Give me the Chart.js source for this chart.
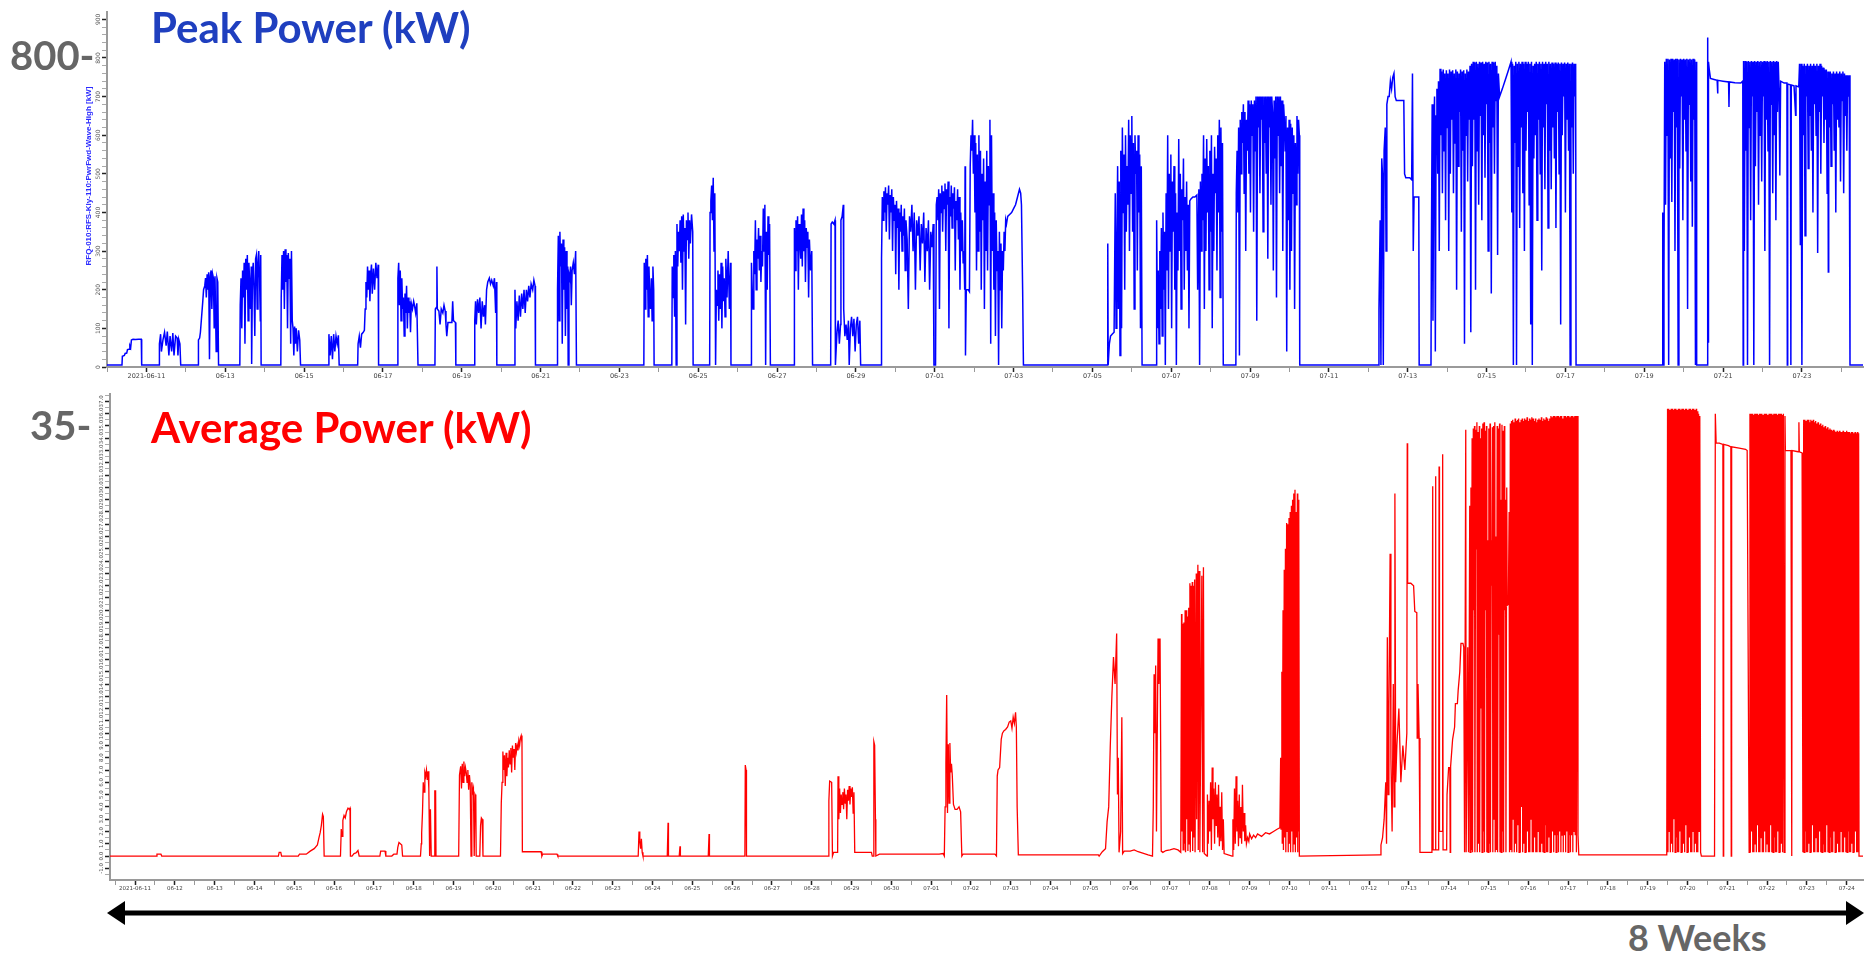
<!DOCTYPE html>
<html>
<head>
<meta charset="utf-8">
<script src="https://cdn.jsdelivr.net/npm/chart.js@4.4.1/dist/chart.umd.min.js"></script>
<style>
html, body { margin: 0; padding: 0; background: #fff; }
#page { position: relative; width: 1870px; height: 957px; overflow: hidden; font-family: 'Lato', 'Open Sans', sans-serif; }
.box { position: absolute; }
#peakBox { left: 0; top: 0; width: 1870px; height: 395px; }
#avgBox { left: 0; top: 380px; width: 1870px; height: 520px; }
.note { position: absolute; font-weight: 700; white-space: nowrap; line-height: 1; }
#arrow { position: absolute; left: 0; top: 0; }
</style>
</head>
<body>
<div id="page">
  <div class="box" id="peakBox"><canvas id="peakChart"></canvas></div>
  <div class="box" id="avgBox"><canvas id="avgChart"></canvas></div>

  <div class="note" style="left:151px; top:6px; font-size:42px; color:#1f3fbf;">Peak Power (kW)</div>
  <div class="note" style="left:151px; top:406px; font-size:42px; color:#ff0000;">Average Power (kW)</div>
  <div class="note" style="left:10px; top:35px; font-size:40px; color:#666;">800-</div>
  <div class="note" style="left:30px; top:405px; font-size:40px; color:#666;">35-</div>
  <div class="note" style="left:1628px; top:919px; font-size:36px; color:#666;">8 Weeks</div>

  <svg id="arrow" width="1870" height="957">
    <line x1="120" y1="913" x2="1850" y2="913" stroke="#000" stroke-width="5"/>
    <polygon points="107,913 125,901 125,925" fill="#000"/>
    <polygon points="1864,913 1846,901 1846,925" fill="#000"/>
  </svg>
</div>

<script>
// Day index 0 = 2021-06-10 00:00.

// tick labels, one per day
const dayLabels = [
  '06-10', '06-11', '06-12', '06-13', '06-14', '06-15', '06-16', '06-17', '06-18', '06-19',
  '06-20', '06-21', '06-22', '06-23', '06-24', '06-25', '06-26', '06-27', '06-28', '06-29',
  '06-30', '07-01', '07-02', '07-03', '07-04', '07-05', '07-06', '07-07', '07-08', '07-09',
  '07-10', '07-11', '07-12', '07-13', '07-14', '07-15', '07-16', '07-17', '07-18', '07-19',
  '07-20', '07-21', '07-22', '07-23', '07-24'
];
const peakTickValues = [0, 100, 200, 300, 400, 500, 600, 700, 800, 900];
const avgTickValues = [-1, 0, 1, 2, 3, 4, 5, 6, 7, 8, 9, 10, 11, 12, 13, 14, 15, 16, 17, 18, 19,
  20, 21, 22, 23, 24, 25, 26, 27, 28, 29, 30, 31, 32, 33, 34, 35, 36, 37];

// Peak power [day, kW] - June 10 .. June 22
const peakEarly = [
  [0, 5], [0.38, 5], [0.39, 28], [0.44, 30], [0.46, 35], [0.5, 36], [0.52, 45], [0.56, 46], [0.58, 55], [0.6, 50],
  [0.62, 70], [0.66, 72], [0.72, 71], [0.8, 72], [0.87, 72], [0.88, 5],
  [1.32, 5], [1.33, 60], [1.36, 85], [1.38, 40], [1.42, 70], [1.46, 90], [1.5, 55], [1.53, 92], [1.57, 30], [1.6, 80],
  [1.64, 40], [1.67, 88], [1.7, 30], [1.74, 80], [1.78, 75], [1.8, 30], [1.82, 72], [1.85, 60], [1.87, 5],
  [2.31, 5], [2.32, 70], [2.35, 75], [2.37, 90], [2.4, 130], [2.43, 170], [2.45, 200], [2.48, 210], [2.5, 230], [2.52, 180],
  [2.54, 240], [2.56, 200], [2.58, 245], [2.6, 20], [2.62, 235], [2.64, 250], [2.66, 150], [2.68, 240], [2.7, 230], [2.72, 100],
  [2.74, 235], [2.77, 40], [2.79, 230], [2.81, 220], [2.83, 5],
  [3.37, 5], [3.38, 160], [3.4, 230], [3.42, 100], [3.44, 250], [3.46, 180], [3.48, 270], [3.5, 60], [3.52, 280], [3.54, 200],
  [3.56, 290], [3.58, 120], [3.6, 270], [3.62, 220], [3.64, 150], [3.66, 260], [3.67, 8], [3.69, 240], [3.71, 270], [3.73, 200],
  [3.75, 80], [3.77, 280], [3.79, 290], [3.81, 150], [3.83, 270], [3.85, 300], [3.87, 230], [3.89, 120], [3.9, 290], [3.91, 5],
  [4.41, 5], [4.42, 180], [4.44, 290], [4.46, 200], [4.48, 300], [4.5, 150], [4.52, 305], [4.54, 220], [4.56, 290], [4.58, 100],
  [4.6, 295], [4.62, 230], [4.64, 280], [4.66, 60], [4.68, 300], [4.7, 120], [4.72, 100], [4.74, 30], [4.76, 105], [4.78, 60],
  [4.8, 100], [4.83, 40], [4.86, 95], [4.89, 70], [4.91, 5],
  [5.62, 5], [5.63, 85], [5.66, 30], [5.69, 80], [5.72, 20], [5.75, 85], [5.78, 40], [5.81, 80], [5.84, 60], [5.87, 82], [5.89, 5],
  [6.36, 5], [6.37, 60], [6.4, 80], [6.43, 50], [6.46, 85], [6.5, 90], [6.53, 95], [6.55, 150], [6.57, 220], [6.59, 180],
  [6.61, 260], [6.63, 200], [6.65, 250], [6.67, 170], [6.69, 240], [6.71, 265], [6.73, 190], [6.76, 255], [6.79, 200], [6.82, 270],
  [6.85, 230], [6.88, 265], [6.89, 5],
  [7.37, 5], [7.38, 230], [7.4, 270], [7.42, 160], [7.44, 250], [7.46, 120], [7.48, 230], [7.5, 150], [7.52, 180], [7.54, 80],
  [7.56, 190], [7.58, 140], [7.6, 210], [7.62, 100], [7.64, 180], [7.66, 140], [7.68, 170], [7.7, 90], [7.72, 165], [7.75, 150],
  [7.78, 170], [7.8, 160], [7.83, 140], [7.86, 165], [7.89, 5],
  [8.32, 5], [8.33, 150], [8.36, 155], [8.37, 260], [8.38, 150], [8.42, 145], [8.45, 110], [8.48, 150], [8.52, 140], [8.55, 160],
  [8.58, 145], [8.6, 110], [8.62, 80], [8.65, 115], [8.7, 115], [8.75, 115], [8.77, 170], [8.79, 120], [8.84, 115], [8.85, 5],
  [9.32, 5], [9.33, 120], [9.35, 170], [9.37, 110], [9.4, 175], [9.43, 140], [9.46, 180], [9.49, 100], [9.52, 170], [9.55, 130],
  [9.58, 160], [9.6, 110], [9.63, 200], [9.66, 220], [9.7, 230], [9.73, 215], [9.76, 225], [9.8, 210], [9.83, 230], [9.86, 140],
  [9.88, 220], [9.89, 5],
  [10.34, 5], [10.35, 200], [10.37, 100], [10.4, 170], [10.43, 120], [10.46, 185], [10.49, 130], [10.52, 190], [10.55, 150], [10.58, 200],
  [10.61, 140], [10.64, 200], [10.67, 170], [10.7, 210], [10.73, 180], [10.76, 215], [10.8, 200], [10.83, 225], [10.86, 210], [10.87, 5],
  [11.42, 5], [11.43, 200], [11.45, 340], [11.47, 120], [11.49, 350], [11.51, 260], [11.53, 320], [11.55, 60], [11.57, 330], [11.59, 200],
  [11.61, 310], [11.63, 80], [11.65, 300], [11.67, 150], [11.69, 260], [11.7, 5], [11.72, 240], [11.74, 230], [11.76, 260], [11.78, 160],
  [11.8, 250], [11.83, 270], [11.86, 240], [11.89, 300], [11.91, 5]
];

// Peak power - June 23 .. July 3
const peakMid = [
  [13.62, 5], [13.63, 270], [13.65, 150], [13.67, 280], [13.69, 200], [13.71, 290], [13.73, 130], [13.75, 260], [13.77, 180], [13.79, 150],
  [13.81, 230], [13.83, 120], [13.85, 260], [13.87, 200], [13.88, 5],
  [14.33, 5], [14.34, 260], [14.36, 180], [14.38, 290], [14.4, 130], [14.42, 300], [14.44, 5], [14.46, 370], [14.48, 260], [14.5, 350],
  [14.52, 300], [14.54, 380], [14.56, 270], [14.58, 390], [14.6, 200], [14.62, 395], [14.64, 300], [14.66, 360], [14.68, 110], [14.7, 380],
  [14.72, 330], [14.74, 400], [14.76, 280], [14.78, 380], [14.8, 320], [14.83, 395], [14.86, 350], [14.87, 5],
  [15.29, 5], [15.3, 400], [15.32, 430], [15.34, 470], [15.36, 380], [15.38, 490], [15.4, 300], [15.42, 450], [15.44, 5], [15.46, 200],
  [15.48, 160], [15.5, 250], [15.52, 120], [15.54, 240], [15.56, 150], [15.58, 270], [15.6, 100], [15.62, 260], [15.64, 170], [15.66, 230],
  [15.68, 130], [15.7, 280], [15.73, 180], [15.76, 300], [15.79, 150], [15.82, 270], [15.83, 5],
  [16.34, 5], [16.35, 270], [16.37, 200], [16.39, 150], [16.41, 300], [16.43, 240], [16.45, 380], [16.47, 200], [16.49, 330], [16.51, 280],
  [16.53, 360], [16.55, 250], [16.57, 340], [16.59, 220], [16.61, 300], [16.63, 260], [16.65, 410], [16.67, 300], [16.69, 420], [16.71, 5],
  [16.73, 350], [16.75, 200], [16.77, 390], [16.79, 290], [16.81, 370], [16.83, 5],
  [17.43, 5], [17.44, 360], [17.46, 250], [17.48, 380], [17.5, 300], [17.52, 390], [17.54, 200], [17.56, 370], [17.58, 330], [17.6, 280],
  [17.62, 395], [17.64, 260], [17.66, 410], [17.68, 300], [17.7, 380], [17.72, 220], [17.74, 360], [17.76, 310], [17.78, 350], [17.8, 180],
  [17.82, 330], [17.85, 250], [17.88, 300], [17.9, 5],
  [18.36, 5], [18.37, 370], [18.4, 375], [18.44, 370], [18.47, 380], [18.48, 5], [18.52, 90], [18.55, 120], [18.58, 60], [18.61, 110],
  [18.62, 380], [18.65, 390], [18.68, 420], [18.69, 150], [18.72, 80], [18.75, 110], [18.78, 70], [18.81, 120], [18.83, 5], [18.86, 100],
  [18.89, 130], [18.92, 80], [18.95, 125], [18.98, 40], [19.01, 110], [19.04, 130], [19.07, 60], [19.1, 120], [19.12, 5],
  [19.64, 5], [19.65, 280], [19.67, 440], [19.69, 380], [19.71, 455], [19.73, 400], [19.75, 465], [19.77, 350], [19.79, 450], [19.81, 420],
  [19.83, 470], [19.85, 330], [19.87, 445], [19.89, 400], [19.91, 460], [19.93, 300], [19.95, 440], [19.97, 380], [19.99, 420], [20.01, 240],
  [20.03, 430], [20.05, 360], [20.07, 410], [20.09, 200], [20.11, 400], [20.13, 350], [20.15, 420], [20.17, 300], [20.19, 390], [20.21, 340],
  [20.23, 410], [20.25, 250], [20.27, 380], [20.3, 330], [20.33, 150], [20.36, 390], [20.39, 350], [20.42, 420], [20.45, 300], [20.48, 400],
  [20.51, 200], [20.54, 380], [20.57, 340], [20.6, 390], [20.63, 250], [20.66, 370], [20.69, 320], [20.72, 400], [20.75, 220], [20.78, 360],
  [20.81, 300], [20.84, 380], [20.87, 200], [20.9, 350], [20.93, 310], [20.96, 370], [20.98, 5], [21.02, 5],
  [21.04, 420], [21.06, 440], [21.08, 380], [21.1, 460], [21.12, 150], [21.14, 450], [21.16, 400], [21.18, 470], [21.2, 350], [21.22, 455],
  [21.24, 410], [21.26, 475], [21.28, 300], [21.3, 460], [21.32, 420], [21.34, 480], [21.36, 100], [21.38, 440], [21.4, 390], [21.42, 470],
  [21.44, 360], [21.46, 450], [21.48, 410], [21.5, 465], [21.52, 250], [21.54, 430], [21.56, 380], [21.58, 460], [21.6, 330], [21.62, 440],
  [21.64, 200], [21.66, 400], [21.68, 300], [21.7, 380], [21.72, 270], [21.74, 300], [21.76, 200], [21.77, 520], [21.78, 30], [21.8, 200],
  [21.85, 200], [21.88, 195], [21.9, 520], [21.92, 600], [21.94, 560], [21.96, 640], [21.98, 500], [22.0, 600], [22.02, 400], [22.04, 580],
  [22.06, 250], [22.08, 550], [22.1, 300], [22.12, 600], [22.14, 350], [22.16, 560], [22.18, 200], [22.2, 500], [22.22, 380], [22.24, 540],
  [22.26, 150], [22.28, 480], [22.3, 300], [22.32, 560], [22.34, 250], [22.36, 520], [22.38, 420], [22.4, 640], [22.42, 60], [22.44, 600],
  [22.46, 300], [22.48, 450], [22.5, 200], [22.52, 400], [22.54, 80], [22.56, 380], [22.58, 250], [22.6, 300], [22.62, 5], [22.64, 350],
  [22.66, 200], [22.68, 320], [22.7, 100], [22.72, 300], [22.74, 250], [22.76, 350], [22.78, 300], [22.8, 380], [22.82, 370], [22.85, 390],
  [22.9, 395], [22.95, 400], [23.0, 410], [23.05, 420], [23.1, 440], [23.15, 460], [23.18, 450], [23.2, 420], [23.23, 200], [23.25, 5]
];

// Peak power - July 5 .. July 13
const peakLate = [
  [25.38, 5], [25.39, 320], [25.4, 5], [25.43, 60], [25.46, 80], [25.5, 85], [25.55, 90], [25.58, 450], [25.6, 100], [25.62, 300],
  [25.64, 520], [25.66, 150], [25.68, 480], [25.7, 30], [25.72, 560], [25.74, 100], [25.76, 620], [25.78, 400], [25.8, 550], [25.82, 200],
  [25.84, 600], [25.86, 350], [25.88, 520], [25.9, 420], [25.92, 640], [25.94, 300], [25.96, 600], [25.98, 450], [26.0, 650], [26.02, 350],
  [26.04, 580], [26.06, 150], [26.08, 600], [26.1, 500], [26.12, 560], [26.14, 250], [26.16, 600], [26.18, 400], [26.2, 550], [26.22, 100],
  [26.24, 520], [26.26, 5],
  [26.62, 5], [26.63, 380], [26.65, 100], [26.67, 250], [26.69, 60], [26.71, 300], [26.73, 150], [26.75, 360], [26.77, 80], [26.79, 400],
  [26.81, 200], [26.83, 350], [26.85, 5], [26.87, 450], [26.89, 250], [26.91, 600], [26.93, 150], [26.95, 500], [26.97, 300], [26.99, 550],
  [27.01, 100], [27.03, 480], [27.05, 350], [27.07, 520], [27.09, 200], [27.11, 450], [27.13, 5], [27.15, 400], [27.17, 250], [27.19, 590],
  [27.21, 300], [27.23, 500], [27.25, 150], [27.27, 460], [27.29, 380], [27.31, 540], [27.33, 200], [27.35, 440], [27.37, 300], [27.39, 480],
  [27.41, 250], [27.43, 420], [27.45, 100], [27.47, 430], [27.5, 435], [27.55, 440], [27.6, 440], [27.65, 445], [27.67, 200], [27.7, 460],
  [27.72, 5], [27.74, 480], [27.76, 300], [27.78, 500], [27.8, 380], [27.82, 600], [27.84, 150], [27.86, 540], [27.88, 300], [27.9, 590],
  [27.92, 400], [27.94, 520], [27.96, 200], [27.98, 560], [28.0, 350], [28.02, 600], [28.04, 100], [28.06, 500], [28.08, 300], [28.1, 570],
  [28.12, 450], [28.14, 540], [28.16, 250], [28.18, 600], [28.2, 400], [28.22, 640], [28.24, 180], [28.26, 620], [28.28, 350], [28.3, 580],
  [28.32, 5],
  [28.64, 5], [28.65, 450], [28.67, 560], [28.69, 400], [28.71, 620], [28.73, 30], [28.75, 640], [28.77, 500], [28.79, 660], [28.81, 580],
  [28.83, 680], [28.85, 450], [28.87, 660], [28.89, 300], [28.91, 640], [28.93, 560], [28.95, 690], [28.97, 500], [28.99, 680], [29.01, 400],
  [29.03, 690], [29.05, 600], [29.07, 680], [29.09, 350], [29.11, 690], [29.13, 560], [29.15, 700], [29.17, 120], [29.19, 700], [29.21, 620],
  [29.23, 700], [29.25, 450], [29.27, 700], [29.29, 640], [29.31, 700], [29.33, 350], [29.35, 700], [29.37, 580], [29.39, 700], [29.41, 500],
  [29.43, 700], [29.45, 280], [29.47, 700], [29.49, 620], [29.51, 700], [29.53, 420], [29.55, 700], [29.57, 660], [29.59, 250], [29.61, 690],
  [29.63, 540], [29.65, 700], [29.67, 180], [29.69, 700], [29.71, 600], [29.73, 700], [29.75, 450], [29.77, 700], [29.79, 520], [29.81, 690],
  [29.83, 300], [29.85, 680], [29.87, 640], [29.89, 560], [29.91, 650], [29.93, 40], [29.95, 620], [29.97, 380], [29.99, 640], [30.01, 200],
  [30.03, 630], [30.05, 300], [30.07, 620], [30.09, 450], [30.11, 600], [30.13, 150], [30.15, 580], [30.17, 420], [30.19, 650], [30.21, 500],
  [30.23, 640], [30.25, 600], [30.26, 5],
  [32.26, 5], [32.27, 150], [32.3, 380], [32.32, 5], [32.34, 540], [32.36, 500], [32.38, 5], [32.4, 560], [32.43, 620], [32.45, 300],
  [32.47, 680], [32.5, 700], [32.53, 700], [32.56, 740], [32.59, 720], [32.62, 750], [32.65, 760], [32.68, 700], [32.71, 690], [32.75, 690],
  [32.8, 690], [32.85, 690], [32.9, 690], [32.92, 500], [32.95, 490], [33.0, 490], [33.05, 490], [33.1, 485], [33.12, 760], [33.14, 300],
  [33.16, 440], [33.22, 440], [33.28, 440], [33.29, 5]
];

// Peak power - July 13 .. July 24
const peakEnd = [
  [33.59, 5], [33.6, 300], [33.62, 680], [33.64, 120], [33.66, 600], [33.68, 700], [33.7, 40], [33.72, 650], [33.74, 720], [33.76, 500],
  [33.78, 740], [33.8, 300], [33.82, 772], [33.84, 600], [33.86, 765], [33.88, 450], [33.9, 770], [33.92, 560], [33.94, 760], [33.96, 380],
  [33.98, 768], [34.0, 620], [34.02, 760], [34.04, 300], [34.06, 770], [34.08, 500], [34.1, 765], [34.12, 640], [34.14, 768], [34.16, 450],
  [34.18, 760], [34.2, 580], [34.22, 770], [34.24, 200], [34.26, 765], [34.28, 520], [34.3, 760], [34.32, 660], [34.34, 770], [34.36, 350],
  [34.38, 765], [34.4, 560], [34.42, 768], [34.44, 60], [34.46, 760], [34.48, 600], [34.5, 770], [34.52, 480], [34.54, 765], [34.56, 640],
  [34.58, 780], [34.6, 90], [34.62, 785], [34.64, 520], [34.66, 790], [34.68, 640], [34.7, 788], [34.72, 200], [34.74, 790], [34.76, 560],
  [34.78, 785], [34.8, 420], [34.82, 790], [34.84, 650], [34.86, 788], [34.88, 380], [34.9, 790], [34.92, 600], [34.94, 785], [34.96, 490],
  [34.98, 790], [35.0, 680], [35.02, 788], [35.04, 300], [35.06, 790], [35.08, 580], [35.1, 785], [35.12, 190], [35.14, 790], [35.16, 620],
  [35.18, 788], [35.2, 500], [35.22, 790], [35.24, 690], [35.26, 780], [35.28, 290], [35.3, 760], [35.33, 700], [35.4, 720], [35.48, 745],
  [35.56, 770], [35.62, 790], [35.64, 400], [35.66, 785], [35.68, 5], [35.7, 780], [35.72, 580], [35.74, 790], [35.76, 5], [35.78, 785],
  [35.8, 520], [35.82, 790], [35.84, 360], [35.86, 785], [35.88, 620], [35.9, 790], [35.92, 450], [35.94, 785], [35.96, 300], [35.98, 790],
  [36.0, 560], [36.02, 785], [36.04, 660], [36.06, 790], [36.08, 420], [36.1, 785], [36.12, 110], [36.14, 790], [36.16, 5], [36.18, 780],
  [36.2, 540], [36.22, 785], [36.24, 600], [36.26, 790], [36.28, 380], [36.3, 785], [36.32, 640], [36.34, 790], [36.36, 500], [36.38, 785],
  [36.4, 250], [36.42, 790], [36.44, 620], [36.46, 785], [36.48, 460], [36.5, 790], [36.52, 680], [36.54, 785], [36.56, 360], [36.58, 790],
  [36.6, 560], [36.62, 785], [36.64, 460], [36.66, 788], [36.68, 620], [36.7, 785], [36.72, 540], [36.74, 788], [36.76, 360], [36.78, 785],
  [36.8, 660], [36.82, 788], [36.84, 500], [36.86, 785], [36.88, 110], [36.9, 788], [36.92, 600], [36.94, 785], [36.96, 700], [36.98, 788],
  [37.0, 400], [37.02, 785], [37.04, 640], [37.06, 788], [37.08, 560], [37.1, 785], [37.12, 5], [37.14, 785], [37.16, 620], [37.18, 788],
  [37.2, 500], [37.22, 785], [37.24, 700], [37.26, 785], [37.27, 5],
  [39.46, 5], [39.47, 400], [39.48, 5], [39.5, 237], [39.52, 790], [39.54, 420], [39.56, 798], [39.58, 600], [39.6, 798], [39.62, 5],
  [39.64, 796], [39.66, 540], [39.68, 798], [39.7, 427], [39.72, 798], [39.74, 660], [39.76, 796], [39.78, 300], [39.8, 798], [39.82, 620],
  [39.84, 798], [39.86, 5], [39.88, 796], [39.9, 514], [39.92, 798], [39.94, 700], [39.96, 796], [39.98, 380], [40.0, 798], [40.02, 640],
  [40.04, 796], [40.06, 560], [40.08, 798], [40.1, 150], [40.12, 796], [40.14, 680], [40.16, 798], [40.18, 480], [40.2, 796], [40.22, 363],
  [40.24, 798], [40.26, 640], [40.28, 796], [40.3, 5], [40.32, 790], [40.33, 5], [40.6, 5], [40.61, 853], [40.62, 65], [40.63, 790],
  [40.65, 770], [40.68, 747], [40.75, 745], [40.85, 742], [40.86, 708], [40.87, 742], [41.0, 740], [41.14, 738], [41.15, 673], [41.16, 738],
  [41.3, 736], [41.45, 735], [41.5, 740], [41.51, 5], [41.52, 792], [41.54, 300], [41.56, 792], [41.58, 560], [41.6, 790], [41.62, 5],
  [41.64, 792], [41.66, 620], [41.68, 790], [41.7, 380], [41.72, 792], [41.74, 700], [41.76, 790], [41.78, 5], [41.8, 792], [41.82, 520],
  [41.84, 790], [41.86, 660], [41.88, 792], [41.9, 420], [41.92, 790], [41.94, 600], [41.96, 792], [41.98, 480], [42.0, 790], [42.02, 700],
  [42.04, 792], [42.06, 300], [42.08, 790], [42.1, 640], [42.12, 792], [42.14, 560], [42.16, 790], [42.18, 5], [42.2, 792], [42.22, 680],
  [42.24, 790], [42.26, 450], [42.28, 792], [42.3, 600], [42.32, 790], [42.34, 380], [42.36, 792], [42.38, 660], [42.4, 790], [42.42, 720],
  [42.44, 496], [42.46, 740], [42.55, 735], [42.62, 735], [42.63, 5], [42.64, 733], [42.71, 730], [42.72, 5], [42.73, 730], [42.8, 728],
  [42.84, 652], [42.85, 728], [42.92, 725], [42.94, 785], [42.96, 315], [42.98, 785], [43.0, 5], [43.02, 780], [43.04, 600], [43.06, 785],
  [43.08, 340], [43.1, 780], [43.12, 700], [43.14, 785], [43.16, 514], [43.18, 780], [43.2, 650], [43.22, 785], [43.24, 560], [43.26, 780],
  [43.28, 400], [43.3, 785], [43.32, 680], [43.34, 780], [43.36, 600], [43.38, 785], [43.4, 295], [43.42, 780], [43.44, 660], [43.46, 785],
  [43.48, 500], [43.5, 780], [43.52, 700], [43.54, 775], [43.56, 580], [43.58, 770], [43.6, 640], [43.62, 770], [43.64, 450], [43.66, 765],
  [43.67, 246], [43.68, 765], [43.7, 620], [43.72, 765], [43.74, 520], [43.76, 760], [43.78, 680], [43.8, 765], [43.82, 560], [43.84, 760],
  [43.86, 400], [43.88, 765], [43.9, 640], [43.92, 760], [43.94, 620], [43.96, 765], [43.98, 480], [44.0, 760], [44.02, 690], [44.04, 765],
  [44.06, 450], [44.08, 760], [44.1, 650], [44.12, 755], [44.14, 560], [44.16, 755], [44.18, 700], [44.2, 755], [44.22, 5], [44.55, 5]
];

// Average power [day, kW] - June 10 .. July 3
const avgEarly = [
  [0.37, 0], [1.53, 0], [1.55, 0.15], [1.65, 0.15], [1.67, 0], [4.6, 0], [4.62, 0.3], [4.66, 0.3], [4.68, 0],
  [5.1, 0], [5.13, 0.15], [5.3, 0.15], [5.4, 0.4], [5.5, 0.6], [5.58, 0.9], [5.62, 1.5], [5.65, 1.9], [5.68, 2.5], [5.71, 3.4], [5.73, 3.2], [5.75, 0],
  [6.16, 0], [6.18, 2.2], [6.2, 1.6], [6.22, 2.9], [6.25, 3.3], [6.28, 3.1], [6.31, 3.6], [6.35, 3.9], [6.38, 3.8], [6.4, 3.9], [6.41, 0],
  [6.45, 0], [6.5, 0.2], [6.55, 0.25], [6.6, 0.45], [6.63, 0],
  [7.15, 0], [7.17, 0.4], [7.28, 0.4], [7.3, 0], [7.45, 0], [7.5, 0.15], [7.58, 0.15], [7.6, 0.7], [7.63, 1.1], [7.7, 0.9], [7.72, 0],
  [8.17, 0], [8.19, 1.0], [8.2, 1.9], [8.22, 3.5], [8.24, 6.0], [8.26, 5.2], [8.28, 6.8], [8.3, 6.5], [8.32, 7.0], [8.34, 6.2],
  [8.36, 6.9], [8.38, 5.5], [8.4, 0], [8.42, 3.8], [8.44, 0], [8.52, 0], [8.53, 5.3], [8.55, 5.3], [8.56, 0],
  [9.13, 0], [9.15, 6.6], [9.18, 7.3], [9.2, 5.5], [9.22, 7.5], [9.24, 6.0], [9.26, 7.7], [9.28, 6.5], [9.3, 7.2], [9.32, 6.8],
  [9.34, 6.0], [9.36, 7.0], [9.38, 5.4], [9.4, 6.6], [9.42, 5.8], [9.44, 0], [9.46, 6.0], [9.48, 5.2], [9.5, 5.5], [9.52, 0],
  [9.54, 5.0], [9.56, 4.8], [9.57, 0], [9.66, 0], [9.68, 2.5], [9.7, 3.1], [9.72, 3.0], [9.74, 0],
  [10.18, 0], [10.2, 4.3], [10.22, 6.0], [10.24, 8.5], [10.26, 7.0], [10.28, 8.2], [10.3, 5.7], [10.32, 8.4], [10.34, 6.5], [10.36, 8.0],
  [10.38, 7.2], [10.4, 8.6], [10.42, 7.5], [10.44, 8.8], [10.46, 6.8], [10.48, 9.0], [10.5, 8.0], [10.52, 8.7], [10.54, 7.0], [10.56, 9.2],
  [10.58, 8.5], [10.6, 9.0], [10.62, 8.6], [10.64, 9.4], [10.66, 9.0], [10.68, 9.6], [10.7, 9.8], [10.72, 9.2], [10.73, 0.35], [11.2, 0.35],
  [11.22, 0], [11.24, 0.15], [11.6, 0.15], [11.62, 0],
  [13.64, 0], [13.66, 2.0], [13.68, 1.2], [13.7, 0.6], [13.72, 1.4], [13.74, 0.3], [13.76, 0],
  [14.37, 0], [14.39, 2.7], [14.4, 0], [14.67, 0], [14.69, 0.8], [14.7, 0], [15.4, 0], [15.42, 1.8], [15.43, 0],
  [16.32, 0], [16.33, 7.4], [16.35, 7.0], [16.36, 0],
  [18.41, 0], [18.43, 4.5], [18.45, 6.1], [18.5, 6.0], [18.52, 0], [18.55, 0.3], [18.65, 0.3], [18.66, 6.5], [18.68, 3.0], [18.7, 5.5],
  [18.72, 3.5], [18.74, 5.0], [18.76, 4.2], [18.78, 5.2], [18.8, 3.8], [18.82, 5.5], [18.84, 4.3], [18.86, 5.0], [18.88, 3.0], [18.9, 5.4],
  [18.92, 4.5], [18.94, 5.7], [18.96, 4.2], [18.98, 5.5], [19.0, 4.8], [19.02, 5.6], [19.04, 3.5], [19.06, 5.2], [19.08, 0.3], [19.5, 0.3],
  [19.52, 0], [19.55, 0], [19.56, 9.3], [19.58, 9.0], [19.6, 3.0], [19.61, 0], [19.7, 0.15], [21.2, 0.15], [21.3, 0.2],
  [21.33, 0], [21.35, 4.0], [21.37, 7.6], [21.39, 13.1], [21.41, 3.5], [21.43, 9.1], [21.45, 4.3], [21.47, 9.2], [21.49, 6.8], [21.51, 7.5],
  [21.53, 6.6], [21.56, 4.2], [21.6, 3.8], [21.65, 3.8], [21.7, 4.0], [21.74, 3.6], [21.77, 0], [21.8, 0.15], [22.6, 0.15],
  [22.64, 0], [22.66, 6.5], [22.68, 7.0], [22.72, 7.2], [22.76, 9.5], [22.79, 10.0], [22.83, 10.2], [22.87, 10.3], [22.92, 10.5], [22.96, 10.9],
  [23.0, 11.0], [23.03, 10.4], [23.06, 11.3], [23.09, 10.8], [23.12, 11.7], [23.14, 10.5], [23.16, 4.0], [23.19, 0.1], [25.2, 0.1]
];

// Average power - July 5 .. July 13
const avgMid = [
  [25.22, 0], [25.3, 0.35], [25.38, 0.6], [25.42, 2.8], [25.46, 4.0], [25.5, 9.0], [25.54, 13.0], [25.58, 16.2], [25.62, 14.0], [25.66, 18.1],
  [25.68, 5.0], [25.7, 8.0], [25.72, 0.3], [25.76, 2.0], [25.79, 11.3], [25.81, 0.2], [25.85, 0.4], [26.0, 0.4], [26.1, 0.5], [26.2, 0.35],
  [26.45, 0.1], [26.56, 0], [26.58, 4.0], [26.6, 14.8], [26.62, 10.0], [26.64, 15.5], [26.66, 2.0], [26.7, 17.7], [26.72, 14.0], [26.75, 17.7],
  [26.78, 0.4], [26.82, 0.3], [26.9, 0.45], [27.0, 0.5], [27.1, 0.6], [27.2, 0.5], [27.27, 0.3],
  [27.29, 19.7], [27.3, 2.0], [27.32, 18.9], [27.33, 0.5], [27.35, 19.0], [27.36, 1.0], [27.38, 20.0], [27.39, 0.3], [27.41, 20.0], [27.42, 3.0],
  [27.44, 19.5], [27.45, 0.4], [27.47, 20.2], [27.48, 1.0], [27.5, 22.2], [27.51, 0.3], [27.53, 22.0], [27.54, 2.0], [27.56, 22.3], [27.57, 0.4],
  [27.59, 22.0], [27.6, 1.5], [27.62, 22.5], [27.63, 0.3], [27.66, 23.0], [27.67, 3.0], [27.7, 23.7], [27.71, 0.5], [27.73, 23.2], [27.75, 0.3],
  [27.8, 22.8], [27.82, 0.3], [27.84, 23.5], [27.86, 0.2],
  [27.93, 0], [27.94, 5.0], [27.96, 1.0], [27.98, 4.5], [28.0, 2.0], [28.02, 6.0], [28.04, 0.5], [28.06, 7.2], [28.08, 3.0], [28.1, 5.5],
  [28.12, 1.0], [28.14, 6.0], [28.16, 2.5], [28.18, 5.0], [28.2, 1.5], [28.22, 5.8], [28.24, 0.8], [28.26, 4.0], [28.28, 1.2], [28.3, 5.2],
  [28.32, 0.5], [28.34, 3.0], [28.36, 0.2], [28.56, 0], [28.58, 3.0], [28.6, 0.5], [28.62, 5.5], [28.64, 1.0], [28.66, 6.5], [28.68, 2.0],
  [28.7, 4.5], [28.72, 0.8], [28.74, 5.0], [28.76, 1.5], [28.78, 4.0], [28.8, 1.0], [28.82, 5.8], [28.84, 2.0], [28.86, 3.5], [28.88, 1.2],
  [28.9, 2.5], [28.92, 1.0], [28.95, 1.5], [28.98, 1.2], [29.0, 1.8], [29.05, 1.4], [29.1, 1.7], [29.15, 1.5], [29.2, 1.8], [29.3, 1.6],
  [29.4, 1.9], [29.5, 1.8], [29.6, 2.0], [29.7, 2.2], [29.76, 2.3],
  [29.78, 8.0], [29.79, 2.2], [29.81, 15.0], [29.82, 1.0], [29.84, 20.0], [29.85, 0.5], [29.87, 23.3], [29.88, 1.5], [29.9, 25.0], [29.91, 0.3],
  [29.93, 27.1], [29.94, 2.0], [29.96, 27.0], [29.97, 0.3], [29.99, 27.5], [30.0, 1.0], [30.02, 28.0], [30.03, 0.3], [30.05, 28.5], [30.06, 2.0],
  [30.08, 29.0], [30.09, 0.3], [30.11, 29.5], [30.12, 1.0], [30.14, 29.8], [30.15, 0.3], [30.17, 28.0], [30.18, 1.5], [30.2, 29.5], [30.21, 0.3],
  [30.22, 29.0], [30.23, 2.0], [30.24, 28.5], [30.25, 0], [32.28, 0.1],
  [32.3, 0.9], [32.34, 1.5], [32.38, 3.0], [32.42, 6.0], [32.44, 1.0], [32.46, 17.8], [32.48, 5.0], [32.5, 12.0], [32.53, 24.6], [32.55, 8.0],
  [32.58, 2.0], [32.61, 14.0], [32.63, 4.0], [32.65, 29.5], [32.67, 6.0], [32.7, 9.0], [32.75, 12.0], [32.8, 6.0], [32.85, 9.0], [32.9, 7.0],
  [32.95, 10.0], [32.96, 33.6], [32.97, 22.2], [33.05, 22.2], [33.12, 22.0], [33.15, 19.9], [33.2, 19.8], [33.21, 9.6], [33.23, 14.0], [33.26, 9.6],
  [33.28, 0.3], [33.58, 0.3]
];

// Average power - July 13 .. July 24
const avgEnd = [
  [33.6, 30.1], [33.61, 0.5], [33.66, 0.5], [33.67, 30.9], [33.68, 0.5], [33.75, 0.5], [33.76, 31.7], [33.77, 2.0], [33.84, 2.0], [33.85, 32.7],
  [33.86, 0.5], [33.95, 0.5], [33.96, 5.0], [34.0, 7.2], [34.03, 7.2], [34.04, 0.3], [34.05, 7.3], [34.1, 9.5], [34.15, 10.5], [34.17, 12.4],
  [34.22, 12.4], [34.24, 13.5], [34.28, 15.0], [34.31, 17.3], [34.36, 17.3], [34.38, 17.0], [34.4, 0.3], [34.43, 34.7], [34.44, 0.3], [34.48, 17.0],
  [34.5, 0.3], [34.53, 28.5], [34.54, 0.3], [34.56, 30.0], [34.57, 0.5], [34.59, 34.0], [34.6, 0.3], [34.62, 34.8], [34.63, 20.0], [34.65, 35.0],
  [34.66, 0.3], [34.68, 34.7], [34.69, 25.0], [34.71, 35.3], [34.72, 0.3], [34.74, 34.5], [34.75, 1.0], [34.77, 35.0], [34.78, 0.3], [34.8, 34.0],
  [34.81, 12.0], [34.83, 34.8], [34.84, 0.3], [34.86, 35.2], [34.87, 2.0], [34.89, 35.3], [34.9, 0.3], [34.92, 34.6], [34.93, 20.0], [34.95, 35.0],
  [34.96, 0.3], [34.98, 25.7], [34.99, 0.3], [35.01, 34.8], [35.02, 1.0], [35.04, 35.2], [35.05, 0.3], [35.07, 25.7], [35.08, 22.0], [35.1, 34.9],
  [35.11, 0.3], [35.13, 35.0], [35.14, 3.0], [35.16, 35.3], [35.17, 0.3], [35.19, 26.0], [35.2, 0.5], [35.22, 35.0], [35.23, 0.3], [35.25, 34.8],
  [35.26, 18.0], [35.28, 35.2], [35.29, 0.3], [35.31, 29.0], [35.32, 0.3], [35.34, 35.1], [35.35, 2.0], [35.37, 34.6], [35.38, 0.3], [35.4, 35.0],
  [35.41, 20.0], [35.43, 29.0], [35.44, 0.3], [35.46, 30.0], [35.47, 20.4], [35.5, 20.5], [35.52, 28.0], [35.53, 0.3], [35.55, 35.2], [35.56, 0.5],
  [35.58, 35.4], [35.59, 0.3], [35.61, 35.5], [35.62, 3.0], [35.64, 35.3], [35.65, 0.3], [35.67, 35.6], [35.68, 1.0], [35.7, 35.4], [35.71, 0.3],
  [35.73, 35.5], [35.74, 2.5], [35.76, 35.6], [35.77, 0.3], [35.79, 35.3], [35.8, 0.3], [35.82, 35.5], [35.83, 4.0], [35.85, 35.6], [35.86, 0.3],
  [35.88, 35.4], [35.89, 1.0], [35.91, 35.6], [35.92, 0.3], [35.94, 35.5], [35.95, 0.3], [35.97, 35.7], [35.98, 2.0], [36.0, 35.4], [36.01, 0.3],
  [36.03, 35.6], [36.04, 0.3], [36.06, 35.5], [36.07, 3.0], [36.09, 35.7], [36.1, 0.3], [36.12, 35.6], [36.13, 0.3], [36.15, 35.4], [36.16, 1.5],
  [36.18, 35.6], [36.19, 0.3], [36.21, 35.3], [36.22, 0.3], [36.24, 35.5], [36.25, 2.0], [36.27, 35.6], [36.28, 0.3], [36.3, 35.5], [36.31, 0.3],
  [36.33, 35.7], [36.34, 1.0], [36.36, 35.4], [36.37, 0.3], [36.39, 35.6], [36.4, 0.3], [36.42, 35.5], [36.43, 2.5], [36.45, 35.7], [36.46, 0.3],
  [36.48, 35.6], [36.49, 0.3], [36.51, 35.4], [36.52, 1.5], [36.54, 35.6], [36.55, 0.3], [36.57, 35.8], [36.58, 0.3], [36.6, 35.7], [36.61, 2.0],
  [36.63, 35.8], [36.64, 0.3], [36.66, 35.8], [36.67, 1.7], [36.69, 35.7], [36.7, 0.3], [36.72, 35.8], [36.73, 1.7], [36.75, 35.8], [36.76, 0.3],
  [36.78, 35.7], [36.79, 2.0], [36.81, 35.8], [36.82, 0.3], [36.84, 35.8], [36.85, 1.7], [36.87, 35.6], [36.88, 0.3], [36.9, 35.8], [36.91, 1.7],
  [36.93, 35.8], [36.94, 0.3], [36.96, 35.7], [36.97, 2.0], [36.99, 35.8], [37.0, 0.3], [37.02, 35.8], [37.03, 1.7], [37.05, 35.7], [37.06, 0.3],
  [37.08, 35.8], [37.09, 1.7], [37.11, 35.8], [37.12, 0.3], [37.14, 35.7], [37.15, 2.0], [37.17, 35.8], [37.18, 1.7], [37.2, 35.8], [37.21, 0.3],
  [37.23, 35.8], [37.25, 1.7], [37.27, 0.1], [39.48, 0.1],
  [39.5, 36.4], [39.51, 0.3], [39.53, 36.4], [39.54, 2.0], [39.56, 36.3], [39.57, 0.3], [39.59, 36.4], [39.6, 1.0], [39.62, 36.4], [39.63, 0.3],
  [39.65, 36.3], [39.66, 3.0], [39.68, 36.4], [39.69, 0.3], [39.71, 36.4], [39.72, 1.5], [39.74, 36.3], [39.75, 0.3], [39.77, 36.4], [39.78, 0.3],
  [39.8, 36.4], [39.81, 2.0], [39.83, 36.3], [39.84, 0.3], [39.86, 36.4], [39.87, 0.3], [39.89, 36.4], [39.9, 1.0], [39.92, 36.3], [39.93, 0.3],
  [39.95, 36.4], [39.96, 2.5], [39.98, 36.4], [39.99, 0.3], [40.01, 36.3], [40.02, 0.3], [40.04, 36.4], [40.05, 1.5], [40.07, 36.4], [40.08, 0.3],
  [40.1, 36.3], [40.11, 0.3], [40.13, 36.4], [40.14, 2.0], [40.16, 36.4], [40.17, 0.3], [40.19, 36.3], [40.2, 1.0], [40.22, 36.4], [40.23, 0.3],
  [40.25, 36.2], [40.26, 0.3], [40.28, 36.0], [40.29, 2.0], [40.31, 35.8], [40.33, 0.3], [40.35, 0], [40.68, 0], [40.7, 36.0], [40.72, 33.6],
  [40.8, 33.6], [40.89, 33.5], [40.9, 0], [40.91, 33.5], [41.03, 33.4], [41.09, 33.3], [41.1, 0], [41.11, 33.3], [41.3, 33.2], [41.46, 33.1],
  [41.5, 33.0], [41.55, 0.3], [41.57, 36.0], [41.58, 0.3], [41.6, 36.0], [41.61, 2.0], [41.63, 36.0], [41.64, 0.3], [41.66, 35.9], [41.67, 0.3],
  [41.69, 36.0], [41.7, 1.0], [41.72, 36.0], [41.73, 0.3], [41.75, 36.0], [41.76, 2.5], [41.78, 35.9], [41.79, 0.3], [41.81, 36.0], [41.82, 0.3],
  [41.84, 36.0], [41.85, 1.5], [41.87, 36.0], [41.88, 0.3], [41.9, 35.9], [41.91, 0.3], [41.93, 36.0], [41.94, 2.0], [41.96, 36.0], [41.97, 0.3],
  [41.99, 36.0], [42.0, 1.0], [42.02, 35.9], [42.03, 0.3], [42.05, 36.0], [42.06, 0.3], [42.08, 36.0], [42.09, 2.5], [42.11, 36.0], [42.12, 0.3],
  [42.14, 35.9], [42.15, 0.3], [42.17, 36.0], [42.18, 1.5], [42.2, 36.0], [42.21, 0.3], [42.23, 36.0], [42.24, 0.3], [42.26, 35.9], [42.27, 2.0],
  [42.29, 36.0], [42.3, 0.3], [42.32, 36.0], [42.33, 0.3], [42.35, 36.0], [42.36, 1.0], [42.38, 35.9], [42.39, 0.3], [42.41, 36.0], [42.43, 0.3],
  [42.45, 35.8], [42.46, 33.0], [42.6, 33.0], [42.62, 0], [42.63, 33.0], [42.78, 32.9], [42.8, 35.3], [42.81, 32.9], [42.88, 32.8], [42.9, 0.3],
  [42.92, 35.5], [42.93, 0.3], [42.95, 35.5], [42.96, 2.0], [42.98, 35.4], [42.99, 0.3], [43.01, 35.5], [43.02, 0.3], [43.04, 35.5], [43.05, 1.0],
  [43.07, 35.3], [43.08, 0.3], [43.1, 35.5], [43.11, 0.3], [43.13, 35.4], [43.14, 2.5], [43.16, 35.5], [43.17, 0.3], [43.19, 35.3], [43.2, 0.3],
  [43.22, 35.4], [43.23, 1.5], [43.25, 35.2], [43.26, 0.3], [43.28, 35.3], [43.29, 0.3], [43.31, 35.1], [43.32, 2.0], [43.34, 35.2], [43.35, 0.3],
  [43.37, 35.0], [43.38, 0.3], [43.4, 35.1], [43.41, 1.0], [43.43, 34.9], [43.44, 0.3], [43.46, 35.0], [43.47, 0.3], [43.49, 34.8], [43.5, 2.5],
  [43.52, 34.9], [43.53, 0.3], [43.55, 34.7], [43.56, 0.3], [43.58, 34.8], [43.59, 1.5], [43.61, 34.7], [43.62, 0.3], [43.64, 34.6], [43.65, 0.3],
  [43.67, 34.7], [43.68, 2.0], [43.7, 34.6], [43.71, 0.3], [43.73, 34.5], [43.74, 0.3], [43.76, 34.6], [43.77, 1.0], [43.79, 34.5], [43.8, 0.3],
  [43.82, 34.6], [43.83, 0.3], [43.85, 34.5], [43.86, 2.0], [43.88, 34.5], [43.89, 0.3], [43.91, 34.6], [43.92, 0.3], [43.94, 34.5], [43.95, 1.5],
  [43.97, 34.5], [43.98, 0.3], [44.0, 34.6], [44.01, 0.3], [44.03, 34.5], [44.04, 2.0], [44.06, 34.5], [44.07, 0.3], [44.09, 34.4], [44.1, 0.3],
  [44.12, 34.5], [44.13, 1.0], [44.15, 34.5], [44.16, 0.3], [44.18, 34.4], [44.19, 0.3], [44.21, 34.5], [44.22, 2.0], [44.24, 34.4], [44.25, 0.3],
  [44.27, 34.5], [44.28, 0.3], [44.3, 34.4], [44.31, 0], [44.41, 0]
];

const peakPoints = peakEarly.concat(peakMid, peakLate, peakEnd).map(p => ({ x: p[0], y: p[1] }));
const avgPoints = avgEarly.concat(avgMid, avgEnd).map(p => ({ x: p[0], y: p[1] }));

function dateLabel(v, labelEvery) {
    if (Math.abs(v - Math.round(v)) > 1e-6) return '';
    const d = Math.round(v);
    if (d < 1 || d >= dayLabels.length || (d - 1) % labelEvery !== 0) return '';
    return d === 1 ? '2021-' + dayLabels[d] : dayLabels[d];
}

// Rotated y tick labels (and the optional axis title), drawn next to the library's axis
const sideLabels = {
    id: 'sideLabels',
    afterDraw(chart, args, opts) {
        const y = chart.scales.y;
        const ctx = chart.ctx;
        ctx.save();
        ctx.fillStyle = '#555';
        ctx.font = opts.font;
        ctx.textAlign = 'center';
        ctx.textBaseline = 'bottom';
        opts.values.forEach(v => {
            ctx.save();
            ctx.translate(opts.x, y.getPixelForValue(v));
            ctx.rotate(-Math.PI / 2);
            ctx.fillText(opts.format(v), 0, 0);
            ctx.restore();
        });
        if (opts.title) {
            ctx.fillStyle = opts.titleColor;
            ctx.font = opts.titleFont;
            ctx.translate(opts.titleX, opts.titleY);
            ctx.rotate(-Math.PI / 2);
            ctx.fillText(opts.title, 0, 0);
        }
        ctx.restore();
    }
};

function makeChart(canvas, cfg) {
    return new Chart(canvas, {
        type: 'line',
        data: {
            datasets: [{
                data: cfg.points,
                borderColor: cfg.color,
                borderWidth: cfg.lineWidth,
                pointRadius: 0,
                tension: 0,
                fill: false
            }]
        },
        options: {
            responsive: true,
            maintainAspectRatio: false,
            animation: false,
            events: [],
            layout: { padding: { left: 0, top: cfg.padTop, right: 7, bottom: 0 } },
            plugins: {
                legend: { display: false },
                tooltip: { enabled: false },
                sideLabels: cfg.side
            },
            scales: {
                x: {
                    type: 'linear',
                    min: cfg.xMin,
                    max: cfg.xMax,
                    afterFit: s => { s.height = cfg.xHeight; },
                    border: { display: true, color: '#9a9a9a', width: 2 },
                    grid: {
                        drawOnChartArea: false,
                        drawTicks: true,
                        tickLength: 5,
                        tickColor: c => (dateLabel(c.tick.value, cfg.labelEvery) ? '#222' : '#999'),
                        tickWidth: c => (dateLabel(c.tick.value, cfg.labelEvery) ? 1.5 : 1)
                    },
                    ticks: {
                        stepSize: cfg.xStep,
                        includeBounds: false,
                        autoSkip: false,
                        maxRotation: 0,
                        minRotation: 0,
                        padding: 0,
                        color: '#444',
                        font: { family: 'DejaVu Sans', size: cfg.xFont },
                        callback: v => dateLabel(v, cfg.labelEvery)
                    }
                },
                y: {
                    min: cfg.yMin,
                    max: cfg.yMax,
                    afterFit: s => { s.width = cfg.yWidth; },
                    border: { display: true, color: '#9a9a9a', width: 2 },
                    grid: {
                        drawOnChartArea: false,
                        tickLength: 5,
                        tickColor: c => (cfg.isMajorY(c.tick.value) ? '#222' : '#aaa'),
                        tickWidth: c => (cfg.isMajorY(c.tick.value) ? 1.5 : 1)
                    },
                    ticks: {
                        stepSize: cfg.yStep,
                        includeBounds: false,
                        display: false
                    }
                }
            }
        },
        plugins: [sideLabels]
    });
}

makeChart(document.getElementById('peakChart'), {
    points: peakPoints,
    color: '#0000ff',
    lineWidth: 1.5,
    padTop: 12,
    xMin: 0, xMax: 44.55, xStep: 1, labelEvery: 2, xHeight: 28, xFont: 6.5,
    yMin: 0, yMax: 919, yStep: 20, yWidth: 107,
    isMajorY: v => Math.abs(v % 100) < 1e-6,
    side: {
        values: peakTickValues,
        format: v => String(v),
        x: 101,
        font: '6px "DejaVu Sans"',
        title: 'RFQ-010:RFS-Kly-110:PwrFwd-Wave-High [kW]',
        titleX: 93,
        titleY: 176,
        titleColor: '#2a2aff',
        titleFont: 'bold 8px "Liberation Sans"'
    }
});

makeChart(document.getElementById('avgChart'), {
    points: avgPoints,
    color: '#ff0000',
    lineWidth: 1.3,
    padTop: 14,
    xMin: 0.37, xMax: 44.41, xStep: 0.5, labelEvery: 1, xHeight: 20, xFont: 5.5,
    yMin: -1.95, yMax: 37.6, yStep: 0.5, yWidth: 110,
    isMajorY: v => Math.abs(v - Math.round(v)) < 1e-6,
    side: {
        values: avgTickValues,
        format: v => v.toFixed(1),
        x: 104,
        font: '5.5px "DejaVu Sans"'
    }
});
</script>
</body>
</html>
